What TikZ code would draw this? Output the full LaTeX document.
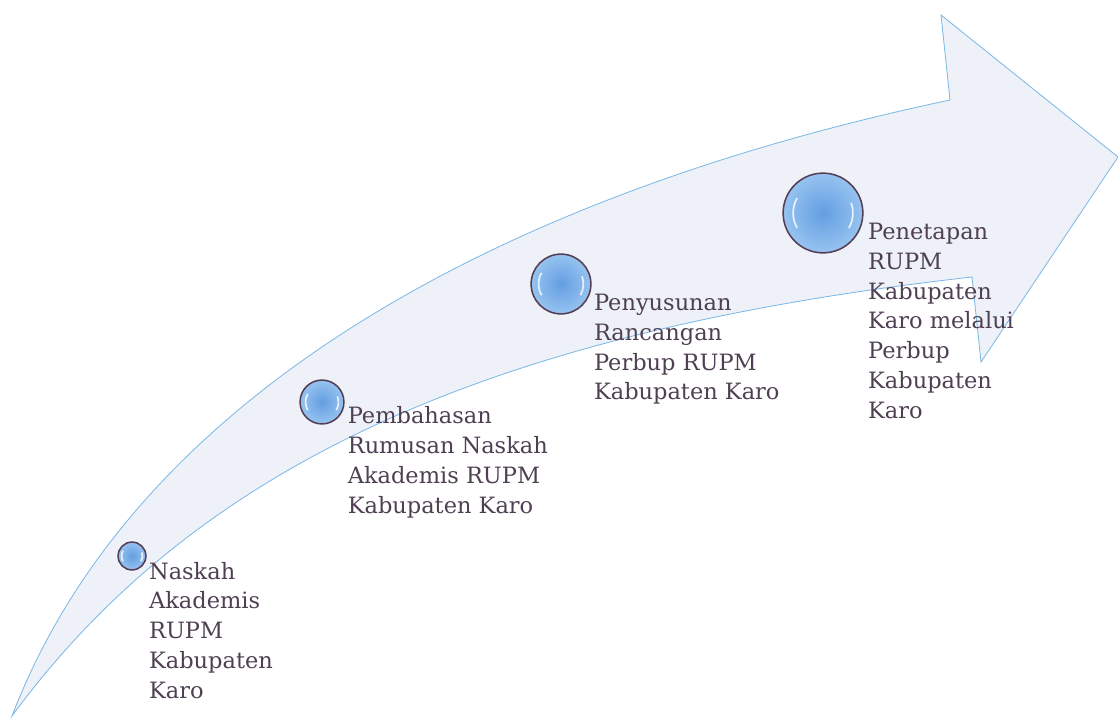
\documentclass[tikz,border=0pt]{standalone}
\usepackage{fontspec}
\setmainfont{DejaVu Serif}
\usetikzlibrary{positioning, calc}

\definecolor{shaftfill}{RGB}{238,242,248}
\definecolor{shaftline}{RGB}{125,185,230}
\definecolor{bubbleline}{RGB}{85,62,85}
\definecolor{bubblecore}{RGB}{100,158,225}
\definecolor{bubblerim}{RGB}{150,195,240}
\definecolor{labeltext}{RGB}{78,64,82}

\begin{document}
\begin{tikzpicture}[
      x=0.025cm, y=-0.025cm,
      bubble/.style={circle, draw=bubbleline, line width=1.1pt, inner sep=0pt,
        inner color=bubblecore, outer color=bubblerim,
        path picture={
          \draw[white, opacity=.8, line width=1.2pt]
            let \p1=($(path picture bounding box.east)-(path picture bounding box.center)$) in
            ($(path picture bounding box.center)+(150:0.75*\x1)$) arc[start angle=150, end angle=210, radius=0.75*\x1]
            ($(path picture bounding box.center)+(-30:0.75*\x1)$) arc[start angle=-30, end angle=20, radius=0.75*\x1];
        }},
      steplabel/.style={align=left, inner sep=0pt, anchor=north west, text=labeltext,
        font=\fontsize{16}{21.2}\selectfont}
    ]
    \useasboundingbox (0,0) rectangle (1118,718);

    % curved arrow behind the steps
    \draw[shaftline, fill=shaftfill, line width=0.6pt]
      (12,716) .. controls (135,395) and (500,195) .. (950,100)
      -- (941,15) -- (1118,157) -- (981,362) -- (972,277)
      .. controls (500,330) and (200,460) .. cycle;

    \node[bubble, minimum size=19.8pt] (c1) at (132,556) {};
    \node[bubble, minimum size=31.2pt] (c2) at (322,402) {};
    \node[bubble, minimum size=42.5pt] (c3) at (561,284) {};
    \node[bubble, minimum size=56.7pt] (c4) at (823,213) {};

    \node[steplabel] (t1) at ([xshift=1.5pt, yshift=-4pt]c1.east) {Naskah\\Akademis\\RUPM\\Kabupaten\\Karo};
    \node[steplabel] (t2) at ([xshift=2pt, yshift=-3pt]c2.east) {Pembahasan\\Rumusan Naskah\\Akademis RUPM\\Kabupaten Karo};
    \node[steplabel] (t3) at ([xshift=1.5pt, yshift=-7pt]c3.east) {Penyusunan\\Rancangan\\Perbup RUPM\\Kabupaten Karo};
    \node[steplabel] (t4) at ([xshift=3pt, yshift=-7pt]c4.east) {Penetapan\\RUPM\\Kabupaten\\Karo melalui\\Perbup\\Kabupaten\\Karo};
  \end{tikzpicture}
\end{document}
